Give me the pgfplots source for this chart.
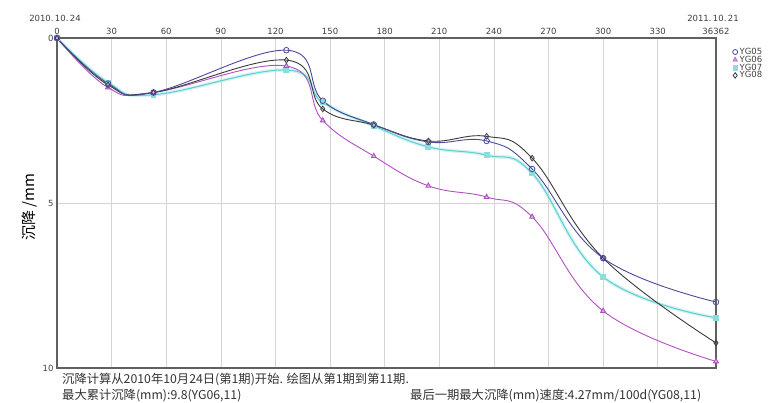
\documentclass[border=0pt]{standalone}
\usepackage{pgfplots}
\pgfplotsset{compat=1.18}
\usepackage{fontspec}
\setmainfont{DejaVu Sans}
\newfontfamily\cjk{Noto Sans CJK SC}
\definecolor{c05}{HTML}{4A4A9A}
\definecolor{c06}{HTML}{B050C0}
\definecolor{c07}{HTML}{5CCFCF}
\definecolor{c08}{HTML}{3A3A3A}
\definecolor{axgray}{HTML}{606060}
\definecolor{gridgray}{HTML}{D4D4D4}
\begin{document}
\begin{tikzpicture}
\useasboundingbox (0pt,0pt) rectangle (779pt,-402pt);
\begin{axis}[at={(57pt,-368pt)}, anchor=south west, scale only axis,
  width=659pt, height=330pt,
  xmin=0, xmax=362, ymin=0, ymax=10, y dir=reverse,
  xtick={0,30,60,90,120,150,180,210,240,270,300,330,362},
  xticklabels={0,30,60,90,120,150,180,210,240,270,300,330,36362},
  ytick={0,5,10},
  xticklabel pos=top,
  major tick length=0pt,
  xmajorgrids, ymajorgrids,
  grid style={gridgray, line width=0.6pt},
  axis line style={axgray, line width=1.3pt},
  tick label style={font=\fontsize{8.5}{9}\selectfont, text=black!75},
  /pgf/number format/assume math mode=true,
  legend style={at={(1.025,0.97)}, anchor=north west, draw=none, fill=none,
    font=\fontsize{8.5}{9}\selectfont, row sep=0pt, inner sep=0pt, text=black!75,
    nodes={inner xsep=2pt, inner ysep=0pt}},
  legend cell align=left,
  legend image code/.code={\draw[#1] plot coordinates {(0.1cm,0cm)};},
]
\addlegendimage{only marks, mark=o, mark size=2.5pt, c05, mark options={fill=white, line width=0.8pt}}
\addlegendentry{YG05}
\addlegendimage{only marks, mark=triangle*, mark size=2.7pt, c06, mark options={fill=c06!60}}
\addlegendentry{YG06}
\addlegendimage{only marks, mark=square*, mark size=2.3pt, c07!70, mark options={fill=c07!70}}
\addlegendentry{YG07}
\addlegendimage{only marks, mark=diamond, mark size=2.7pt, c08, mark options={line width=0.8pt}}
\addlegendentry{YG08}
% YG07 glow
\addplot[c07!45, line width=3.5pt, opacity=0.6, smooth, tension=0.7, forget plot] coordinates {
(0,0) (28,1.35) (53,1.72) (126,0.97) (146,1.95) (174,2.66) (204,3.30) (236,3.55) (261,4.10) (300,7.24) (362,8.48)};
\addplot[c07, line width=1pt, smooth, tension=0.7, mark=square*, mark size=2.4pt, mark options={fill=c07!70, draw=c07!70}, forget plot] coordinates {
(0,0) (28,1.35) (53,1.72) (126,0.97) (146,1.95) (174,2.66) (204,3.30) (236,3.55) (261,4.10) (300,7.24) (362,8.48)};
% YG06
\addplot[c06, line width=0.9pt, smooth, tension=0.7, mark=triangle*, mark size=2.8pt, mark options={fill=c06!45}, forget plot] coordinates {
(0,0) (28,1.50) (53,1.65) (126,0.85) (146,2.50) (174,3.58) (204,4.48) (236,4.82) (261,5.42) (300,8.27) (362,9.80)};
% YG08
\addplot[c08, line width=0.9pt, smooth, tension=0.7, mark=diamond, mark size=2.8pt, mark options={fill=white, line width=0.8pt}, forget plot] coordinates {
(0,0) (28,1.42) (53,1.65) (126,0.67) (146,2.15) (174,2.64) (204,3.12) (236,2.98) (261,3.64) (300,6.67) (362,9.24)};
% YG05
\addplot[c05, line width=0.9pt, smooth, tension=0.7, mark=o, mark size=2.8pt, mark options={fill=white, line width=0.8pt}, forget plot] coordinates {
(0,0) (28,1.38) (53,1.65) (126,0.37) (146,1.90) (174,2.62) (204,3.15) (236,3.12) (261,3.97) (300,6.67) (362,8.00)};
\end{axis}
\node[font=\fontsize{8.5}{9}\selectfont, text=black!75] at (55pt,-18pt) {2010.\,10.\,24};
\node[font=\fontsize{8.5}{9}\selectfont, text=black!75] at (713pt,-18pt) {2011.\,10.\,21};
\node[rotate=90, font=\cjk\fontsize{15}{16}\selectfont] at (30pt,-207pt) {沉降 /mm};
\node[anchor=base west, font=\cjk\fontsize{12.3}{13}\selectfont, text=black!80, inner sep=0pt] at (62pt,-383pt) {沉降计算从2010年10月24日(第1期)开始. 绘图从第1期到第11期.};
\node[anchor=base west, font=\cjk\fontsize{12.3}{13}\selectfont, text=black!80, inner sep=0pt] at (62pt,-399.5pt) {最大累计沉降(mm):9.8(YG06,11)};
\node[anchor=base west, font=\cjk\fontsize{12.3}{13}\selectfont, text=black!80, inner sep=0pt] at (410pt,-399.5pt) {最后一期最大沉降(mm)速度:4.27mm/100d(YG08,11)};
\end{tikzpicture}
\end{document}
